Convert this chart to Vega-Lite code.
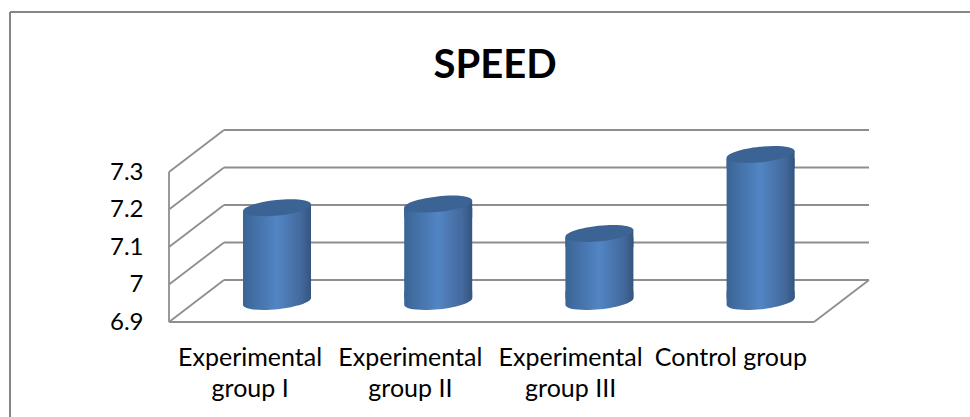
{
  "$schema": "https://vega.github.io/schema/vega-lite/v6.json",
  "width": 700,
  "height": 192,
  "autosize": {"type": "none"},
  "padding": {"left": 169, "top": 130, "right": 101, "bottom": 95},
  "background": "white",
  "title": {
    "text": "SPEED",
    "font": "Lato",
    "fontWeight": "bold",
    "fontSize": 40,
    "color": "#000000",
    "anchor": "middle",
    "frame": "group",
    "baseline": "alphabetic",
    "dx": -24,
    "offset": -107
  },
  "datasets": {
    "groups": [
      {"group": "Experimental group I", "label": "Experimental|group I", "value": 7.155},
      {"group": "Experimental group II", "label": "Experimental|group II", "value": 7.165},
      {"group": "Experimental group III", "label": "Experimental|group III", "value": 7.085},
      {"group": "Control group", "label": "Control group", "value": 7.3}
    ],
    "frame": [
      {"x": -0.986, "x2": -0.986, "y": 6.647, "y2": 7.7267},
      {"x": -0.986, "x2": 4.967, "y": 7.7267, "y2": 7.7267}
    ],
    "walls": [
      {"x": 0.341, "x2": 4.341, "y": 7.012, "y2": 7.012},
      {"x": 0.341, "x2": 4.341, "y": 7.112, "y2": 7.112},
      {"x": 0.341, "x2": 4.341, "y": 7.212, "y2": 7.212},
      {"x": 0.341, "x2": 4.341, "y": 7.312, "y2": 7.312},
      {"x": 0.341, "x2": 4.341, "y": 7.412, "y2": 7.412},
      {"x": 0, "x2": 0.341, "y": 6.9, "y2": 7.012},
      {"x": 0, "x2": 0.341, "y": 7.0, "y2": 7.112},
      {"x": 0, "x2": 0.341, "y": 7.1, "y2": 7.212},
      {"x": 0, "x2": 0.341, "y": 7.2, "y2": 7.312},
      {"x": 0, "x2": 0.341, "y": 7.3, "y2": 7.412},
      {"x": 0, "x2": 0, "y": 6.9, "y2": 7.3},
      {"x": 0, "x2": 4, "y": 6.9, "y2": 6.9},
      {"x": 4, "x2": 4.341, "y": 6.9, "y2": 7.012}
    ]
  },
  "resolve": {"scale": {"x": "independent", "y": "independent"}},
  "layer": [
    {
      "data": {"name": "frame"},
      "mark": {"type": "rule", "color": "#868686", "strokeWidth": 2, "clip": false},
      "encoding": {
        "x": {"field": "x", "type": "quantitative", "scale": {"domain": [0, 4.341], "nice": false, "zero": false}, "axis": null},
        "x2": {"field": "x2"},
        "y": {"field": "y", "type": "quantitative", "scale": {"domain": [6.9, 7.412], "nice": false, "zero": false}, "axis": null},
        "y2": {"field": "y2"}
      }
    },
    {
      "data": {"name": "walls"},
      "mark": {"type": "rule", "color": "#8e8e8e", "strokeWidth": 1.8},
      "encoding": {
        "x": {"field": "x", "type": "quantitative", "scale": {"domain": [0, 4.341], "nice": false, "zero": false}, "axis": null},
        "x2": {"field": "x2"},
        "y": {
          "field": "y",
          "type": "quantitative",
          "scale": {"domain": [6.9, 7.412], "nice": false, "zero": false},
          "axis": {
            "orient": "left",
            "title": null,
            "values": [6.9, 7.0, 7.1, 7.2, 7.3],
            "format": ".1~f",
            "domain": false,
            "ticks": false,
            "grid": false,
            "labelFont": "Lato",
            "labelFontSize": 24,
            "labelColor": "#000000",
            "labelPadding": 26
          }
        },
        "y2": {"field": "y2"}
      }
    },
    {
      "data": {"name": "groups"},
      "mark": {"type": "bar", "opacity": 0},
      "encoding": {
        "x": {
          "field": "label",
          "type": "nominal",
          "sort": null,
          "scale": {"range": [1, 642], "paddingInner": 0, "paddingOuter": 0},
          "axis": {
            "orient": "bottom",
            "title": null,
            "domain": false,
            "ticks": false,
            "grid": false,
            "labelAngle": 0,
            "labelFont": "Lato",
            "labelFontSize": 25,
            "labelColor": "#000000",
            "labelPadding": 23,
            "labelLineHeight": 31,
            "labelExpr": "split(datum.value, '|')"
          }
        }
      }
    },
    {
      "data": {"name": "groups"},
      "mark": {
        "type": "point",
        "filled": true,
        "opacity": 1,
        "size": 4624,
        "strokeWidth": 0,
        "shape": "M-1,-0.3L-1,0.105A1.005,0.228,-6,0,0,1,-0.105L1,-0.3Z",
        "fill": {
          "gradient": "linear", "x1": 0, "y1": 0, "x2": 1, "y2": 0,
          "stops": [
            {"offset": 0, "color": "#3a6495"},
            {"offset": 0.5, "color": "#5285c4"},
            {"offset": 0.85, "color": "#44699d"},
            {"offset": 1, "color": "#34557f"}
          ]
        }
      },
      "encoding": {
        "x": {"field": "group", "type": "nominal", "sort": null, "scale": {"range": [27.4, 672.2], "paddingInner": 0, "paddingOuter": 0}, "axis": null},
        "y": {"datum": 6.9, "type": "quantitative", "scale": {"domain": [6.9, 7.3], "range": [171.5, 24.5], "nice": false, "zero": false}, "axis": null}
      }
    },
    {
      "data": {"name": "groups"},
      "mark": {
        "type": "bar",
        "size": 68,
        "fill": {
          "gradient": "linear", "x1": 0, "y1": 0, "x2": 1, "y2": 0,
          "stops": [
            {"offset": 0, "color": "#3a6495"},
            {"offset": 0.5, "color": "#5285c4"},
            {"offset": 0.85, "color": "#44699d"},
            {"offset": 1, "color": "#34557f"}
          ]
        }
      },
      "encoding": {
        "x": {"field": "group", "type": "nominal", "sort": null, "scale": {"range": [27.4, 672.2], "paddingInner": 0, "paddingOuter": 0}, "axis": null},
        "y": {"field": "value", "type": "quantitative", "scale": {"domain": [6.9, 7.3], "range": [175.5, 28.5], "nice": false, "zero": false}, "axis": null},
        "y2": {"datum": 6.92}
      }
    },
    {
      "data": {"name": "groups"},
      "mark": {
        "type": "point",
        "filled": true,
        "opacity": 1,
        "size": 4624,
        "strokeWidth": 0,
        "shape": "M-1,0.4L-1,0.105L1,-0.105L1,0.4Z",
        "fill": {
          "gradient": "linear", "x1": 0, "y1": 0, "x2": 1, "y2": 0,
          "stops": [
            {"offset": 0, "color": "#3a6495"},
            {"offset": 0.5, "color": "#5285c4"},
            {"offset": 0.85, "color": "#44699d"},
            {"offset": 1, "color": "#34557f"}
          ]
        }
      },
      "encoding": {
        "x": {"field": "group", "type": "nominal", "sort": null, "scale": {"range": [27.4, 672.2], "paddingInner": 0, "paddingOuter": 0}, "axis": null},
        "y": {"field": "value", "type": "quantitative", "scale": {"domain": [6.9, 7.3], "range": [171.5, 24.5], "nice": false, "zero": false}, "axis": null}
      }
    },
    {
      "data": {"name": "groups"},
      "mark": {
        "type": "point",
        "filled": true,
        "opacity": 1,
        "size": 4624,
        "strokeWidth": 0,
        "fill": "#3b6494",
        "shape": "M-1,0.105A1.005,0.228,-6,1,1,1,-0.105A1.005,0.228,-6,1,1,-1,0.105Z"
      },
      "encoding": {
        "x": {"field": "group", "type": "nominal", "sort": null, "scale": {"range": [27.4, 672.2], "paddingInner": 0, "paddingOuter": 0}, "axis": null},
        "y": {"field": "value", "type": "quantitative", "scale": {"domain": [6.9, 7.3], "range": [171.5, 24.5], "nice": false, "zero": false}, "axis": null}
      }
    }
  ],
  "config": {"view": {"stroke": null}}
}
